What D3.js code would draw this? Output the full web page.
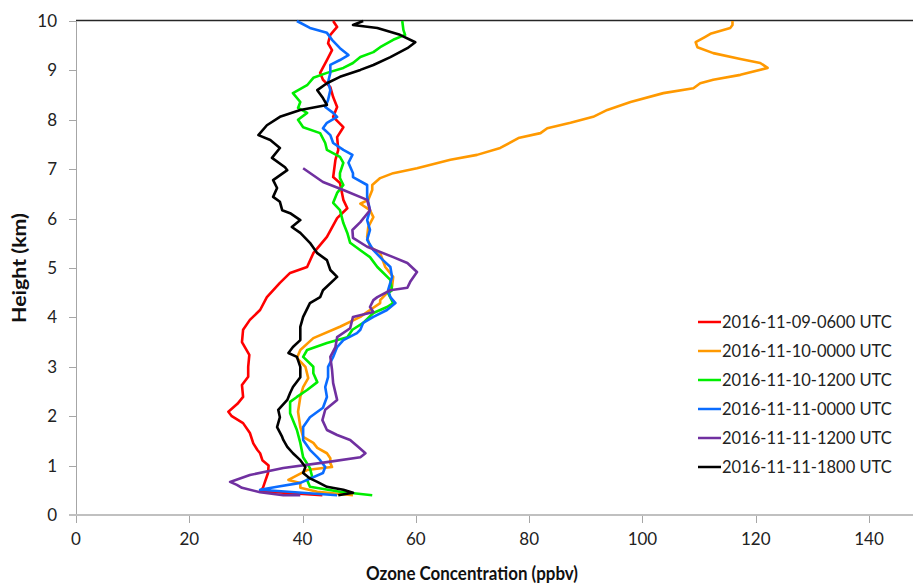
<!DOCTYPE html>
<html>
<head>
<meta charset="utf-8">
<script src="https://cdn.jsdelivr.net/npm/d3@7"></script>
<style>
  body { margin: 0; background: #fff; }
  text { font-family: Lato, "Open Sans", sans-serif; }
</style>
</head>
<body>
<svg id="chart" width="913" height="585"></svg>
<script>

// series labels and colours
var seriesNames = ['2016-11-09-0600 UTC','2016-11-10-0000 UTC','2016-11-10-1200 UTC',
                   '2016-11-11-0000 UTC','2016-11-11-1200 UTC','2016-11-11-1800 UTC'];
var seriesColors = ['#ff0000','#ff9900','#00ee00','#0a6cff','#7030a0','#000000'];

var xTicks = [0,20,40,60,80,100,120,140];
var yTicks = [0,1,2,3,4,5,6,7,8,9,10];

// [ozone ppbv, height km]
var red0600 = [[43.5,0.40],[32.5,0.48],[33.0,0.55],[33.3,0.65],[33.9,0.85],[34.0,1.0],[32.9,1.11],[32.5,1.25],[32.0,1.32],
  [31.3,1.45],[30.7,1.66],[29.5,1.86],[27.5,2.0],[26.9,2.09],[28.5,2.25],[29.5,2.39],[29.3,2.63],[30.4,2.8],[30.4,3.0],
  [30.6,3.24],[29.3,3.5],[29.5,3.75],[30.7,3.95],[32.5,4.15],[33.7,4.41],[36,4.70],[37.8,4.90],[40.8,5.02],[41.9,5.30],
  [44.3,5.63],[46.1,6.01],[47.9,6.21],[47.2,6.38],[46.6,6.72],[45.4,6.84],[45.8,7.19],[46.3,7.39],[46.1,7.65],[47.2,7.85],
  [45.4,8.06],[46.1,8.26],[45.4,8.46],[44.9,8.66],[43.6,8.81],[43.1,8.95],[44.3,9.21],[45.2,9.41],[44.5,9.55],[44.9,9.72],
  [46.1,9.88],[45.4,10.0]];

var orange0000 = [[48.9,0.40],[42.6,0.47],[39.6,0.55],[39.6,0.65],[37.5,0.71],[40.8,0.91],[43.6,0.95],[45.2,0.97],[44.9,1.05],
  [44.9,1.15],[44.3,1.25],[42.6,1.36],[41.9,1.46],[40.1,1.58],[39.6,1.78],[39.2,2.09],[39.6,2.39],[40.1,2.59],[41.0,2.77],
  [40.5,3.0],[39.0,3.18],[39.6,3.34],[41.9,3.58],[46.6,3.81],[50.2,4.01],[51.9,4.15],[53.7,4.29],[53.7,4.35],[54.9,4.49],
  [55.8,4.62],[56.0,4.82],[54.6,5.02],[53.7,5.30],[51.9,5.43],[51.4,5.63],[51.6,5.83],[52.5,6.03],[51.9,6.17],[50.2,6.30],
  [51.6,6.38],[52.3,6.58],[52.3,6.68],[53.7,6.82],[56.0,6.92],[60.2,7.02],[66.1,7.19],[70.8,7.29],[74.9,7.43],[78.1,7.63],
  [82.0,7.73],[83.2,7.83],[87.3,7.94],[91.3,8.06],[93.8,8.20],[97.9,8.36],[103.7,8.54],[109.0,8.64],[110.2,8.74],
  [112.5,8.81],[117.3,8.91],[122.1,9.05],[120.8,9.15],[117.3,9.23],[112.5,9.35],[109.7,9.47],[109.4,9.57],[111.1,9.68],
  [112.0,9.74],[115.5,9.86],[115.9,9.92],[115.9,10.0]];

var green1200 = [[52.3,0.40],[46.6,0.47],[41.3,0.57],[40.8,0.71],[41.7,0.77],[41.3,0.95],[40.1,1.17],[39.6,1.46],[39.0,1.72],
  [37.8,2.06],[37.8,2.29],[39.0,2.39],[40.8,2.53],[42.6,2.69],[41.9,2.87],[41.9,3.0],[40.1,3.20],[40.8,3.34],[44.3,3.48],
  [47.9,3.60],[48.8,3.75],[50.7,3.89],[52.5,4.09],[54.9,4.21],[56.0,4.29],[55.1,4.49],[55.8,4.55],[55.5,4.76],[53.2,5.02],
  [51.9,5.22],[50.2,5.36],[48.4,5.51],[47.9,5.71],[47.2,5.91],[46.6,6.17],[45.4,6.32],[46.1,6.52],[47.2,6.68],[46.6,6.82],
  [46.6,6.92],[47.2,7.13],[46.6,7.25],[44.3,7.39],[44.0,7.53],[43.1,7.73],[40.1,7.85],[39.2,8.00],[40.8,8.14],[39.2,8.24],
  [39.6,8.36],[38.3,8.54],[40.8,8.70],[41.9,8.85],[44.3,8.95],[47.2,9.05],[48.9,9.15],[50.2,9.27],[52.5,9.37],[53.7,9.47],
  [56.0,9.62],[58.1,9.72],[57.8,9.82],[57.6,10.0]];

var blue0000 = [[46.1,0.40],[32.5,0.51],[35.5,0.57],[39.6,0.65],[43.6,0.85],[44.0,0.97],[43.1,1.11],[42.6,1.17],[41.3,1.32],
  [40.1,1.52],[40.1,1.78],[41.3,1.98],[43.6,2.17],[44.3,2.39],[44.0,2.59],[44.5,2.79],[44.5,3.0],[45.4,3.20],[46.1,3.40],
  [47.2,3.54],[49.6,3.68],[50.2,3.75],[50.7,3.89],[52.5,4.01],[54.9,4.15],[56.4,4.29],[55.5,4.41],[55.1,4.55],[55.8,4.82],
  [55.5,5.02],[54.2,5.16],[52.5,5.36],[51.4,5.57],[51.9,5.77],[51.4,5.97],[51.9,6.17],[51.4,6.44],[51.4,6.68],[48.9,6.84],
  [48.9,6.92],[48.1,7.13],[48.8,7.29],[47.2,7.39],[45.4,7.53],[44.9,7.69],[43.6,7.83],[44.3,7.94],[46.1,8.06],[45.4,8.14],
  [44.0,8.26],[44.5,8.40],[44.9,8.60],[44.5,8.76],[44.9,8.95],[44.9,9.11],[46.6,9.21],[48.1,9.31],[46.6,9.45],[45.2,9.62],
  [44.3,9.76],[41.3,9.86],[39.0,10.0]];

var purple1200 = [[39.6,0.40],[36.6,0.40],[32.5,0.46],[29.3,0.55],[28.4,0.61],[27.2,0.67],[30.7,0.81],[36.6,0.95],[44.3,1.07],
  [50.2,1.17],[51.1,1.25],[49.8,1.38],[48.4,1.52],[46.1,1.62],[44.3,1.72],[43.5,1.92],[44.0,2.13],[46.1,2.33],[45.4,2.67],
  [45.2,2.94],[44.9,3.20],[45.8,3.40],[46.1,3.60],[48.4,3.78],[48.9,4.01],[52.5,4.11],[51.9,4.21],[52.5,4.35],[53.2,4.41],
  [55.5,4.55],[58.5,4.60],[59.0,4.72],[60.2,4.92],[58.5,5.10],[56.0,5.22],[51.4,5.43],[48.9,5.61],[48.8,5.77],[50.2,5.93],
  [51.9,6.17],[51.4,6.38],[47.2,6.58],[43.6,6.74],[40.1,7.02]];

var black1800 = [[46.3,0.40],[48.9,0.45],[47.2,0.51],[44.3,0.57],[42.6,0.67],[41.3,0.74],[40.1,0.85],[40.5,0.97],[39.6,1.11],
  [38.3,1.25],[37.3,1.38],[36.6,1.52],[36.4,1.58],[35.5,1.78],[36.0,1.98],[35.7,2.13],[37.3,2.33],[37.8,2.47],[38.3,2.59],
  [39.6,2.79],[39.6,3.0],[39.0,3.20],[37.5,3.28],[38.3,3.40],[39.6,3.54],[39.6,3.81],[40.1,4.01],[41.3,4.29],[43.1,4.41],
  [43.6,4.55],[46.1,4.82],[44.9,4.96],[44.3,5.16],[42.6,5.30],[41.3,5.51],[39.6,5.71],[38.1,5.83],[39.6,5.97],[37.8,6.11],
  [36.4,6.17],[36.0,6.34],[34.8,6.44],[35.5,6.62],[34.8,6.78],[37.3,6.98],[36.9,7.04],[34.6,7.23],[36.0,7.43],[34.3,7.59],
  [32.2,7.69],[33.7,7.89],[36.0,8.06],[39.6,8.20],[44.3,8.30],[43.6,8.44],[42.6,8.60],[44.3,8.74],[46.6,8.87],[50.2,9.01],
  [52.5,9.11],[55.5,9.27],[58.5,9.45],[59.9,9.57],[57.2,9.72],[53.2,9.86],[48.9,9.92],[50.7,10.0]];

var seriesData = [red0600, orange0000, green1200, blue0000, purple1200, black1800];

var svg = d3.select('#chart');
var x = d3.scaleLinear().domain([0,140]).range([76,869]);
var y = d3.scaleLinear().domain([0,10]).range([515,21]);

// axes
var gAxis = svg.append('g');
gAxis.append('line').attr('x1',76).attr('x2',913).attr('y1',20.5).attr('y2',20.5)
     .attr('stroke','#262626').attr('stroke-width',1.3);
gAxis.append('line').attr('x1',76.5).attr('x2',76.5).attr('y1',21).attr('y2',523)
     .attr('stroke','#a6a6a6').attr('stroke-width',1);

gAxis.selectAll('.ytick').data(yTicks).enter().append('line')
     .attr('x1',69).attr('x2',76).attr('y1',function(d){return Math.round(y(d))+0.5;})
     .attr('y2',function(d){return Math.round(y(d))+0.5;})
     .attr('stroke','#a6a6a6');
gAxis.selectAll('.ylab').data(yTicks).enter().append('text')
     .attr('x',57).attr('y',function(d){return y(d)+6;})
     .attr('text-anchor','end').attr('font-size',17).attr('fill','#222')
     .text(function(d){return d;});

gAxis.selectAll('.xtick').data(xTicks).enter().append('line')
     .attr('x1',function(d){return Math.round(x(d))+0.5;}).attr('x2',function(d){return Math.round(x(d))+0.5;})
     .attr('y1',515).attr('y2',523).attr('stroke','#a6a6a6');
gAxis.selectAll('.xlab').data(xTicks).enter().append('text')
     .attr('x',function(d){return x(d);}).attr('y',545)
     .attr('text-anchor','middle').attr('font-size',17).attr('fill','#222')
     .text(function(d){return d;});
gAxis.append('line').attr('x1',69).attr('x2',913).attr('y1',515).attr('y2',515)
     .attr('stroke','#c0c0c0').attr('stroke-width',2);

// titles: narrow Calibri look, squeezed to the reference width
svg.append('text').attr('x',472).attr('y',580).attr('text-anchor','middle')
   .attr('font-size',19.5).attr('font-weight','bold').attr('fill','#111')
   .attr('textLength',212).attr('lengthAdjust','spacingAndGlyphs')
   .text('Ozone Concentration (ppbv)');
svg.append('text').attr('transform','translate(26,268) rotate(-90)').attr('text-anchor','middle')
   .attr('font-size',19.5).attr('font-weight','bold').attr('fill','#111')
   .attr('textLength',110).attr('lengthAdjust','spacingAndGlyphs')
   .text('Height (km)');

// profiles
var line = d3.line().x(function(d){return x(d[0]);}).y(function(d){return y(d[1]);});
svg.append('g').selectAll('path').data(seriesData).enter().append('path')
   .attr('d',line).attr('fill','none')
   .attr('stroke',function(d,i){return seriesColors[i];})
   .attr('stroke-width',2.6).attr('stroke-linejoin','round');

// legend
var legend = svg.append('g').attr('transform','translate(698,322)');
var rows = legend.selectAll('g').data(seriesNames).enter().append('g')
   .attr('transform',function(d,i){return 'translate(0,'+(i*29)+')';});
rows.append('line').attr('x1',0).attr('x2',23).attr('y1',0).attr('y2',0)
    .attr('stroke',function(d,i){return seriesColors[i];}).attr('stroke-width',2.5);
rows.append('text').attr('x',24).attr('y',6).attr('font-size',16.5).attr('fill','#222')
    .text(function(d){return d;});

</script>
</body>
</html>
